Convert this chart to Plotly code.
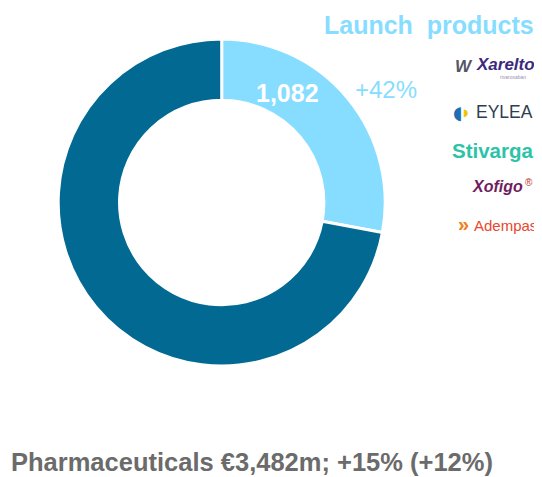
import plotly.graph_objects as go

labels = ["Launch products", "Other pharmaceuticals"]
values = [1082, 2790]
colors = ["#87DDFF", "#026A92"]
launch_growth = "+42%"
title_text = "Launch  products"
brands = ["Xarelto", "EYLEA", "Stivarga", "Xofigo", "Adempas"]
brand_colors = ["#3B2A7E", "#2E3E50", "#2DC3A8", "#6E1E5E", "#E8472E"]
footer = "Pharmaceuticals €3,482m; +15% (+12%)"

# page body has an 8px margin; figure is sized/positioned to compensate
OFF = 8
W, H = 542 - OFF, 477 - OFF
cx, cy, r = 221.7 - OFF, 202.5 - OFF, 163.5

fig = go.Figure(go.Pie(
    labels=labels, values=values, hole=0.625, sort=False, direction="clockwise",
    rotation=0, textinfo="none", hoverinfo="label+value",
    marker=dict(colors=colors, line=dict(color="white", width=3)),
    domain=dict(x=[(cx - r) / W, (cx + r) / W], y=[1 - (cy + r) / H, 1 - (cy - r) / H]),
    showlegend=False,
))

def px(x, y, text, size, color, bold=False, italic=False, xanchor="center", family="Liberation Sans, Arial, sans-serif"):
    t = text
    if bold:
        t = f"<b>{t}</b>"
    if italic:
        t = f"<i>{t}</i>"
    fig.add_annotation(x=(x - OFF) / W, y=1 - (y - OFF) / H, xref="paper", yref="paper", text=t, showarrow=False,
                       xanchor=xanchor, yanchor="middle",
                       font=dict(size=size, color=color, family=family))

px(287, 93, f"{values[0]:,}", 25, "white", bold=True)
px(386, 90, launch_growth, 24, "#87DDFF")
px(429, 25, title_text, 25, "#87DDFF", bold=True)
px(251.5, 462, footer, 25.5, "#6B6B6B", bold=True)

# brand "logos" as text
brand_y = [65, 112, 150, 187, 226]
brand_x = [506, 504, 492, 497, 505]
brand_sizes = [17, 17.5, 20.5, 16, 15]
brand_bold = [True, False, True, True, False]
brand_italic = [True, False, False, True, False]
for b, c, x, y, s, bo, it in zip(brands, brand_colors, brand_x, brand_y, brand_sizes, brand_bold, brand_italic):
    px(x, y, b, s, c, bold=bo, italic=it)
px(529, 183, "®", 10, "#C0392B")
px(513, 77, "rivaroxaban", 5, "#9A8FB0")
# small icons
px(464, 66, "W", 17, "#555566", bold=True, italic=True)
px(457, 112, "◖", 18, "#1F6FB2", family="DejaVu Sans")
px(465, 112, "◗", 10, "#F2C500", family="DejaVu Sans")
px(463, 224, "»", 20, "#F08020", bold=True)

fig.update_layout(width=W, height=H, margin=dict(l=0, r=0, t=0, b=0),
                  paper_bgcolor="white", plot_bgcolor="white")
fig.write_html("out.html")
